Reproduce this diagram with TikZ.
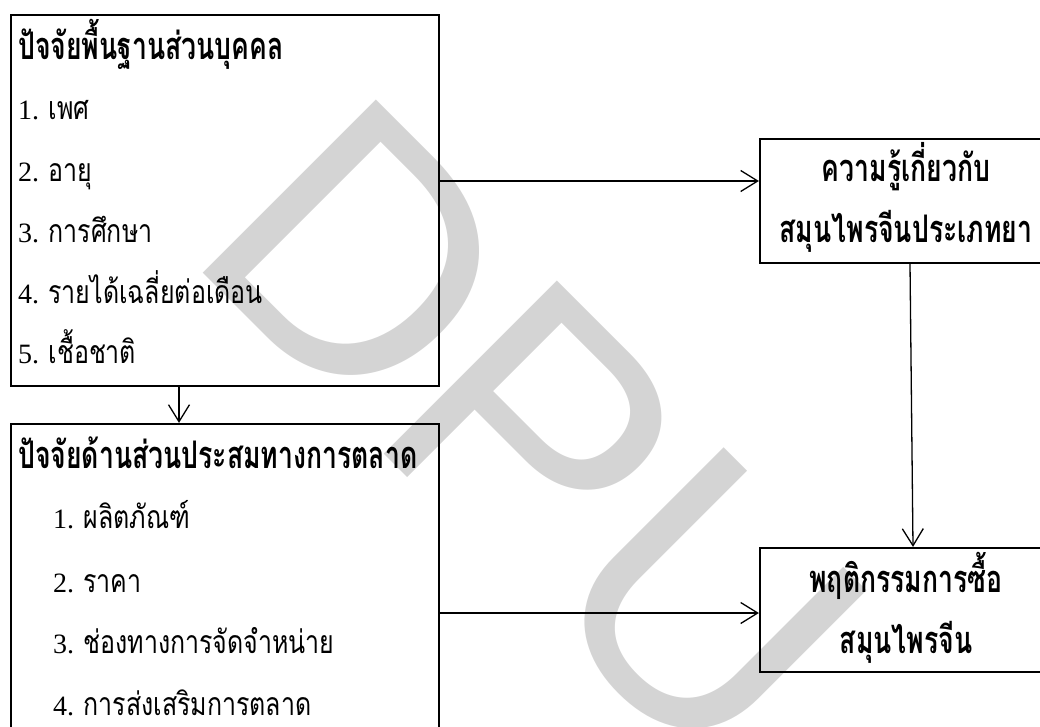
\documentclass[tikz,border=0pt]{standalone}
\usepackage{fontspec}
\setmainfont{Liberation Serif}
\newfontfamily\thaiR[Script=Thai,FakeStretch=0.78]{Loma}
\newfontfamily\thaiB[Script=Thai,FakeStretch=0.70]{Loma}
\newfontfamily\wmfont{Liberation Sans}
\newcommand\thr{\thaiR\fontsize{32}{32}\selectfont}
\newcommand\thb{\thaiB\fontsize{38}{38}\selectfont\bfseries}
\usetikzlibrary{arrows.meta}
\definecolor{wm}{RGB}{212,212,212}
\tikzset{
  box/.style={draw, line width=2.2pt, rectangle, inner sep=0pt},
  lbl/.style={anchor=base west, inner sep=0pt, font=\fontsize{28}{28}\selectfont},
  ttl/.style={anchor=base west, inner sep=0pt, font=\fontsize{28}{28}\selectfont\bfseries},
  ctr/.style={anchor=base, inner sep=0pt, font=\fontsize{28}{28}\selectfont\bfseries},
  arr/.style={line width=1.3pt, -{Straight Barb[length=17pt,width=21pt,line width=1.3pt]}},
  wmark/.style={text=wm, anchor=base west, inner sep=0pt, rotate=-45, font=\wmfont\fontsize{356}{356}\selectfont}
}
\begin{document}
\begin{tikzpicture}[x=1pt,y=-1pt]
\useasboundingbox (0,0) rectangle (1040,727);
\clip (0,0) rectangle (1040,727);
% watermark
\node[wmark] (wm) at (182,252) {DPU};
% boxes
\node[box, minimum width=428pt, minimum height=371pt] (b1) at (225,200.5) {};
\node[box, minimum width=428pt, minimum height=316pt] (b2) at (225,582) {};
\node[box, minimum width=292pt, minimum height=124pt] (b3) at (906,201) {};
\node[box, minimum width=292pt, minimum height=124pt] (b4) at (906,610) {};
% box 1 text
\node[ttl] (t1) at (18,60) {\thb ปัจจัยพื้นฐานส่วนบุคคล};
\node[lbl] (t1a) at (18,120) {1. {\thr เพศ}};
\node[lbl] (t1b) at (18,182) {2. {\thr อายุ}};
\node[lbl] (t1c) at (18,243) {3. {\thr การศึกษา}};
\node[lbl] (t1d) at (18,303) {4. {\thr รายได้เฉลี่ยต่อเดือน}};
\node[lbl] (t1e) at (18,363) {5. {\thr เชื้อชาติ}};
% box 2 text
\node[ttl] (t2) at (18,468) {\thb ปัจจัยด้านส่วนประสมทางการตลาด};
\node[lbl] (t2a) at (53,528) {1. {\thr ผลิตภัณฑ์}};
\node[lbl] (t2b) at (53,592) {2. {\thr ราคา}};
\node[lbl] (t2c) at (53,653) {3. {\thr ช่องทางการจัดจำหน่าย}};
\node[lbl] (t2d) at (53,715) {4. {\thr การส่งเสริมการตลาด}};
% box 3 text
\node[ctr] (t3a) at (906,182) {\thb ความรู้เกี่ยวกับ};
\node[ctr] (t3b) at (906,242) {\thb สมุนไพรจีนประเภทยา};
% box 4 text
\node[ctr] (t4a) at (906,592) {\thb พฤติกรรมการซื้อ};
\node[ctr] (t4b) at (906,653) {\thb สมุนไพรจีน};
% connectors
\coordinate (y1) at (0,181);
\coordinate (x1) at (179,0);
\coordinate (y2) at (0,613);
\draw[arr] (b1.east |- y1) -- (b3.west |- y1);
\draw[arr] (b1.south -| x1) -- (b2.north -| x1);
\draw[arr] ([xshift=4pt]b3.south) -- ([xshift=7pt]b4.north);
\draw[arr] (b2.east |- y2) -- (b4.west |- y2);
\end{tikzpicture}
\end{document}
